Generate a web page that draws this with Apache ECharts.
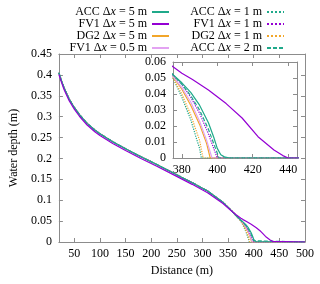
<!DOCTYPE html>
<html><head><meta charset="utf-8">
<script src="https://cdn.jsdelivr.net/npm/echarts@6/dist/echarts.min.js"></script>
<style>html,body{margin:0;padding:0;background:#fff}#c{width:320px;height:284px}</style>
</head><body><div id="c"></div>
<script>
// Shared upstream profile (x in m, depth in m)
var xBase = [20,25,30,40,50,60,75,90,100,125,150,180,210,245,280,310,340,355,365];
var hBase = [0.405,0.386,0.369,0.342,0.322,0.305,0.284,0.268,0.259,0.240,0.223,0.204,0.186,0.164,0.142,0.122,0.095,0.077,0.064];
var hFV1_5Base = [0.401,0.382,0.365,0.338,0.318,0.301,0.280,0.264,0.255,0.236,0.219,0.200,0.182,0.160,0.138,0.118,0.092,0.076,0.066];

// Wet/dry front tails
var xACC5 = [375,380,385,390,395,398,400,402,404,407,500];
var hACC5 = [0.052,0.047,0.041,0.033,0.022,0.013,0.006,0.002,0.0007,0,0];
var xACC1 = [375,380,385,388,390,391,500];
var hACC1 = [0.050,0.038,0.024,0.013,0.006,0,0];
var xACC2 = [375,380,385,390,395,398,400,401,500];
var hACC2 = [0.052,0.046,0.039,0.030,0.018,0.009,0.003,0,0];
var xFV1_5 = [375,380,386,395,405,414,423,432,437,440,500];
var hFV1_5 = [0.057,0.053,0.049,0.0425,0.034,0.025,0.0133,0.005,0.0015,0,0];
var xFV1_1 = [375,380,385,390,395,398,400,500];
var hFV1_1 = [0.052,0.046,0.038,0.028,0.015,0.006,0,0];
var xFV1_05 = [375,380,385,390,394,397,500];
var hFV1_05 = [0.051,0.044,0.035,0.023,0.011,0,0];
var xDG2_5 = [375,380,385,390,394,396,500];
var hDG2_5 = [0.051,0.043,0.033,0.021,0.009,0,0];
var xDG2_1 = [375,380,385,390,392,500];
var hDG2_1 = [0.050,0.040,0.027,0.011,0,0];

var xTicksMain = [50,100,150,200,250,300,350,400,450,500];
var xTicksInset = [380,400,420,440];

var cACC = '#1fa98a', cFV1 = '#9400d3', cDG2 = '#f2a62a', cFV105 = '#e3a3f2';
var FONT = 'Liberation Serif';

function pairs(xs, hs){ var o=[]; for (var i=0;i<xs.length;i++) o.push([xs[i], hs[i]]); return o; }
function full(bx, bh, tx, th){ return pairs(bx, bh).concat(pairs(tx, th)); }

var defs = [
  {name:'ACC Δx = 1 m', data: full(xBase,hBase,xACC1,hACC1), color:cACC, type:'dotted'},
  {name:'DG2 Δx = 1 m', data: full(xBase,hBase,xDG2_1,hDG2_1), color:cDG2, type:'dotted'},
  {name:'DG2 Δx = 5 m', data: full(xBase,hBase,xDG2_5,hDG2_5), color:cDG2, type:'solid'},
  {name:'FV1 Δx = 0.5 m', data: full(xBase,hBase,xFV1_05,hFV1_05), color:cFV105, type:'solid'},
  {name:'FV1 Δx = 1 m', data: full(xBase,hBase,xFV1_1,hFV1_1), color:cFV1, type:'dotted'},
  {name:'ACC Δx = 2 m', data: full(xBase,hBase,xACC2,hACC2), color:cACC, type:[4,2]},
  {name:'ACC Δx = 5 m', data: full(xBase,hBase,xACC5,hACC5), color:cACC, type:'solid'},
  {name:'FV1 Δx = 5 m', data: full(xBase,hFV1_5Base,xFV1_5,hFV1_5), color:cFV1, type:'solid'}
];

var series = [];
defs.forEach(function(d){
  [0,1].forEach(function(g){
    series.push({
      name: d.name, type:'line', xAxisIndex: g*2, yAxisIndex: g*2,
      data: d.data, symbol:'none', showSymbol:false, animation:false, clip:true,
      color: d.color,
      lineStyle:{color:d.color, width:1.2, type:d.type}
    });
  });
});

var gray = '#8c8c8c';
function fmtLegend(name){
  var p = name.split('Δx');
  return '{n|' + p[0] + 'Δ}{i|x}{n|' + p[1] + '}';
}
var legendText = {fontFamily:FONT, fontSize:12, color:'#000', lineHeight:11.6,
  rich:{n:{fontFamily:FONT, fontSize:12, lineHeight:11.6, color:'#000'},
        i:{fontFamily:FONT, fontSize:12, lineHeight:11.6, fontStyle:'italic', color:'#000'}}};
function legendCfg(data, right){
  return {data:data, orient:'vertical', align:'right', right:right, top:6,
    itemWidth:17, itemHeight:8, itemGap:0, padding:0, selectedMode:false,
    itemStyle:{opacity:0},
    textStyle: legendText, formatter: fmtLegend};
}
function xAx(grid, min, max, ticks, pos, showLabel, extra){
  var a = {type:'value', gridIndex:grid, min:min, max:max, position:pos,
    axisLine:{show:true, onZero:false, lineStyle:{color:gray, width:1}},
    axisTick:{show:true, inside:true, length:4, customValues:ticks, lineStyle:{color:gray}},
    axisLabel:{show:showLabel, customValues:ticks, margin:6, color:'#000', fontFamily:FONT, fontSize:12},
    splitLine:{show:false}};
  for (var k in extra) a[k]=extra[k];
  return a;
}
function yAx(grid, max, interval, pos, showLabel, extra){
  var a = {type:'value', gridIndex:grid, min:0, max:max, interval:interval, position:pos,
    axisLine:{show:true, onZero:false, lineStyle:{color:gray, width:1}},
    axisTick:{show:true, inside:true, length:4, lineStyle:{color:gray}},
    axisLabel:{show:showLabel, margin:7, color:'#000', fontFamily:FONT, fontSize:12},
    splitLine:{show:false}};
  for (var k in extra) a[k]=extra[k];
  return a;
}

var option = {
  animation:false,
  backgroundColor:'#fff',
  legend: [
    legendCfg(['ACC Δx = 5 m','FV1 Δx = 5 m','DG2 Δx = 5 m','FV1 Δx = 0.5 m'], 150),
    legendCfg(['ACC Δx = 1 m','FV1 Δx = 1 m','DG2 Δx = 1 m','ACC Δx = 2 m'], 35)
  ],
  grid: [
    {left:57, right:15, top:54, bottom:42},
    {left:173, right:23, top:62, bottom:126, show:true, backgroundColor:'#fff', borderWidth:0}
  ],
  xAxis: [
    xAx(0, 20, 500, xTicksMain, 'bottom', true, {name:'Distance (m)', nameLocation:'middle', nameGap:22,
      nameTextStyle:{color:'#000', fontFamily:FONT, fontSize:12}}),
    xAx(0, 20, 500, xTicksMain, 'top', false, {}),
    xAx(1, 375, 445, xTicksInset, 'bottom', true, {}),
    xAx(1, 375, 445, xTicksInset, 'top', false, {})
  ],
  yAxis: [
    yAx(0, 0.45, 0.05, 'left', true, {name:'Water depth (m)', nameLocation:'middle', nameGap:35,
      nameTextStyle:{color:'#000', fontFamily:FONT, fontSize:12}}),
    yAx(0, 0.45, 0.05, 'right', false, {}),
    yAx(1, 0.06, 0.01, 'left', true, {}),
    yAx(1, 0.06, 0.01, 'right', false, {})
  ],
  series: series
};
var chart = echarts.init(document.getElementById('c'), null, {renderer:'canvas'});
chart.setOption(option);
</script></body></html>
